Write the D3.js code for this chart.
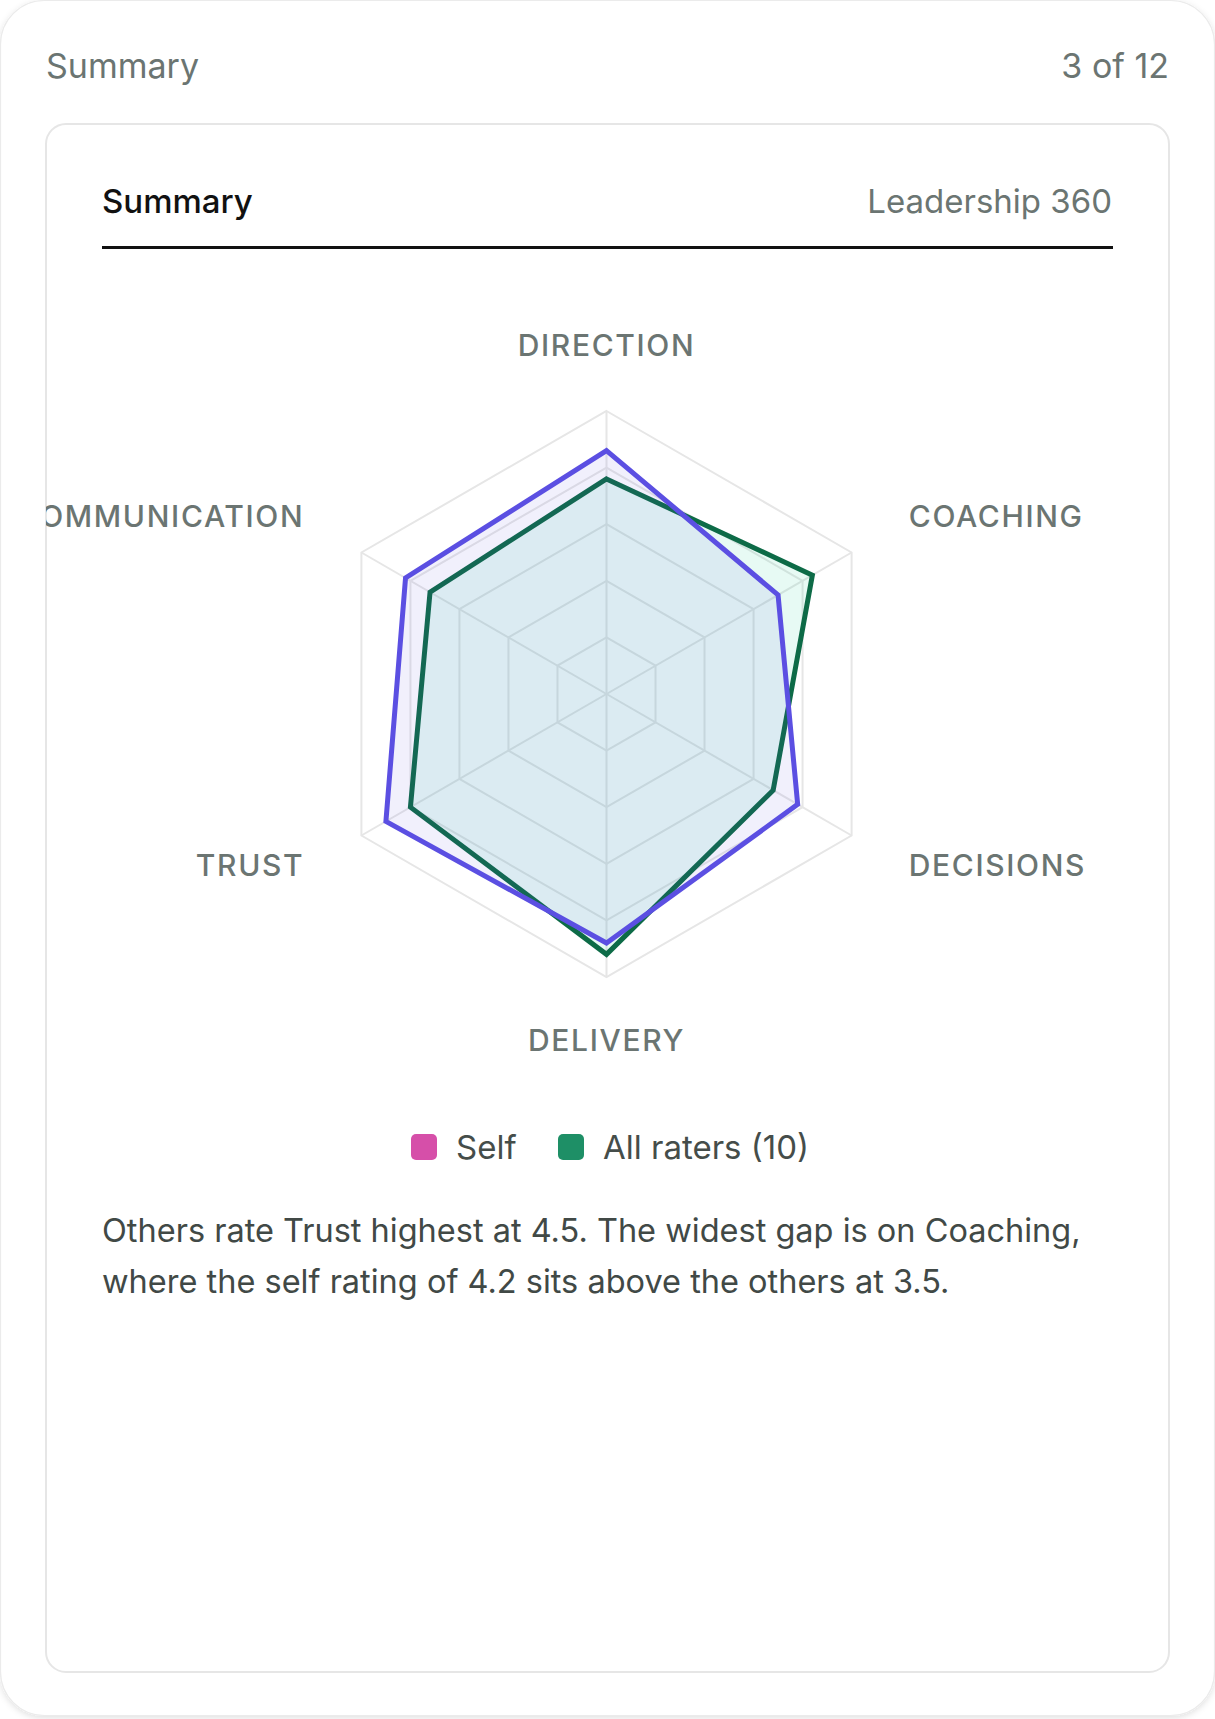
<!DOCTYPE html>
<html>
<head>
<meta charset="utf-8">
<script src="https://cdn.jsdelivr.net/npm/d3@7"></script>
<style>
  html, body { margin: 0; padding: 0; background: #ffffff; }
  svg { display: block; font-family: Inter, "Noto Sans", sans-serif; }
</style>
</head>
<body>
<svg id="chart" width="1215" height="1719"></svg>
<script>
// ---- data ----
const axes = ["DIRECTION", "COACHING", "DECISIONS", "DELIVERY", "TRUST", "COMMUNICATION"];
const selfValues = [3.8, 4.2, 3.4, 4.6, 4.0, 3.6];
const allRatersValues = [4.3, 3.5, 3.9, 4.4, 4.5, 4.1];
const legendLabels = ["Self", "All raters (10)"];
const gridLevels = [1, 2, 3, 4, 5];
const maxValue = 5;
const summaryText = [
  "Others rate Trust highest at 4.5. The widest gap is on Coaching,",
  "where the self rating of 4.2 sits above the others at 3.5."
];

// ---- layout ----
const W = 1215, H = 1719;
const svg = d3.select("#chart");
const defs = svg.append("defs");

const shadow = defs.append("filter").attr("id", "sh").attr("x", "-5%").attr("y", "-5%").attr("width", "110%").attr("height", "110%");
shadow.append("feDropShadow").attr("dx", 0).attr("dy", 2).attr("stdDeviation", 3).attr("flood-color", "#000").attr("flood-opacity", 0.12);

// outer card
svg.append("rect").attr("x", 0.5).attr("y", 0.5).attr("width", W - 1).attr("height", H - 4)
  .attr("rx", 44).attr("fill", "#fff").attr("stroke", "#ebebeb").attr("stroke-width", 1.2)
  .attr("filter", "url(#sh)");

svg.append("text").attr("x", 46).attr("y", 78).attr("font-size", 34).attr("fill", "#6b7572")
  .text("Summary");
svg.append("text").attr("x", 1169).attr("y", 78).attr("font-size", 34).attr("fill", "#6b7572")
  .attr("text-anchor", "end").text("3 of 12");

// inner card
const card = { x: 46, y: 124, w: 1123, h: 1548 };
defs.append("clipPath").attr("id", "cardClip").append("rect")
  .attr("x", card.x).attr("y", card.y).attr("width", card.w).attr("height", card.h).attr("rx", 20);
svg.append("rect").attr("x", card.x).attr("y", card.y).attr("width", card.w).attr("height", card.h)
  .attr("rx", 20).attr("fill", "#fff").attr("stroke", "#e6e6e6").attr("stroke-width", 2);

const inner = svg.append("g").attr("clip-path", "url(#cardClip)");

inner.append("text").attr("x", 102).attr("y", 213).attr("font-size", 33).attr("font-weight", 500)
  .attr("fill", "#111").text("Summary");
inner.append("text").attr("x", 1112).attr("y", 213).attr("font-size", 33).attr("fill", "#6b7572")
  .attr("text-anchor", "end").text("Leadership 360");
inner.append("rect").attr("x", 102).attr("y", 246).attr("width", 1011).attr("height", 3).attr("fill", "#111");

// ---- radar ----
const cx = 606.5, cy = 694, R = 283;
const r = d3.scaleLinear().domain([0, maxValue]).range([0, R]);
const angle = d3.scalePoint().domain(axes).range([0, 2 * Math.PI * (axes.length - 1) / axes.length]);
const g = inner.append("g").attr("transform", `translate(${cx},${cy})`);

const ring = d3.lineRadial().curve(d3.curveLinearClosed);
gridLevels.forEach(lv => {
  g.append("path").attr("d", ring(axes.map(a => [angle(a), r(lv)])))
    .attr("fill", "none").attr("stroke", "#e6e6e6").attr("stroke-width", 2);
});
axes.forEach(a => {
  const t = angle(a);
  g.append("line").attr("x1", 0).attr("y1", 0)
    .attr("x2", r(maxValue) * Math.sin(t)).attr("y2", -r(maxValue) * Math.cos(t))
    .attr("stroke", "#e6e6e6").attr("stroke-width", 2);
});

const series = [
  { values: selfValues, fill: "rgb(20,205,150)", fillOpacity: 0.1, stroke: "#0d6b47" },
  { values: allRatersValues, fill: "rgb(91,77,224)", fillOpacity: 0.085, stroke: "#5b4fe2" }
];
const radarLine = d3.lineRadial()
  .angle((d, i) => angle(axes[i]))
  .radius(d => r(d))
  .curve(d3.curveLinearClosed);
series.forEach(s => {
  g.append("path").attr("d", radarLine(s.values))
    .attr("fill", s.fill).attr("fill-opacity", s.fillOpacity)
    .attr("stroke", s.stroke).attr("stroke-width", 5).attr("stroke-linejoin", "miter");
});

// axis labels
const labelR = 349;
axes.forEach(a => {
  const t = angle(a);
  const x = labelR * Math.sin(t), y = -labelR * Math.cos(t);
  let anchor = "middle";
  if (x > 1) anchor = "start";
  if (x < -1) anchor = "end";
  const yOff = Math.abs(x) > 1 || y > 0 ? -3 : 0;
  g.append("text").attr("x", x).attr("y", y + yOff).attr("dy", "0.36em")
    .attr("text-anchor", anchor).attr("font-size", 30).attr("font-weight", 500)
    .attr("letter-spacing", "0.055em")
    .attr("fill", "#6b7572").text(a);
});

// ---- legend ----
const legendColors = ["#d64fa9", "#1e8f66"];
const legendX = [411, 558];
legendLabels.forEach((lab, i) => {
  const lg = inner.append("g").attr("transform", `translate(${legendX[i]},1147)`);
  lg.append("rect").attr("x", 0).attr("y", -13).attr("width", 26).attr("height", 26).attr("rx", 5)
    .attr("fill", legendColors[i]);
  lg.append("text").attr("x", 45).attr("y", 0).attr("dy", "0.36em").attr("font-size", 33)
    .attr("fill", "#454d4a").text(lab);
});

// ---- summary paragraph ----
summaryText.forEach((line, i) => {
  inner.append("text").attr("x", 102).attr("y", 1242 + i * 51).attr("font-size", 32.5)
    .attr("fill", "#414946").text(line);
});
</script>
</body>
</html>
